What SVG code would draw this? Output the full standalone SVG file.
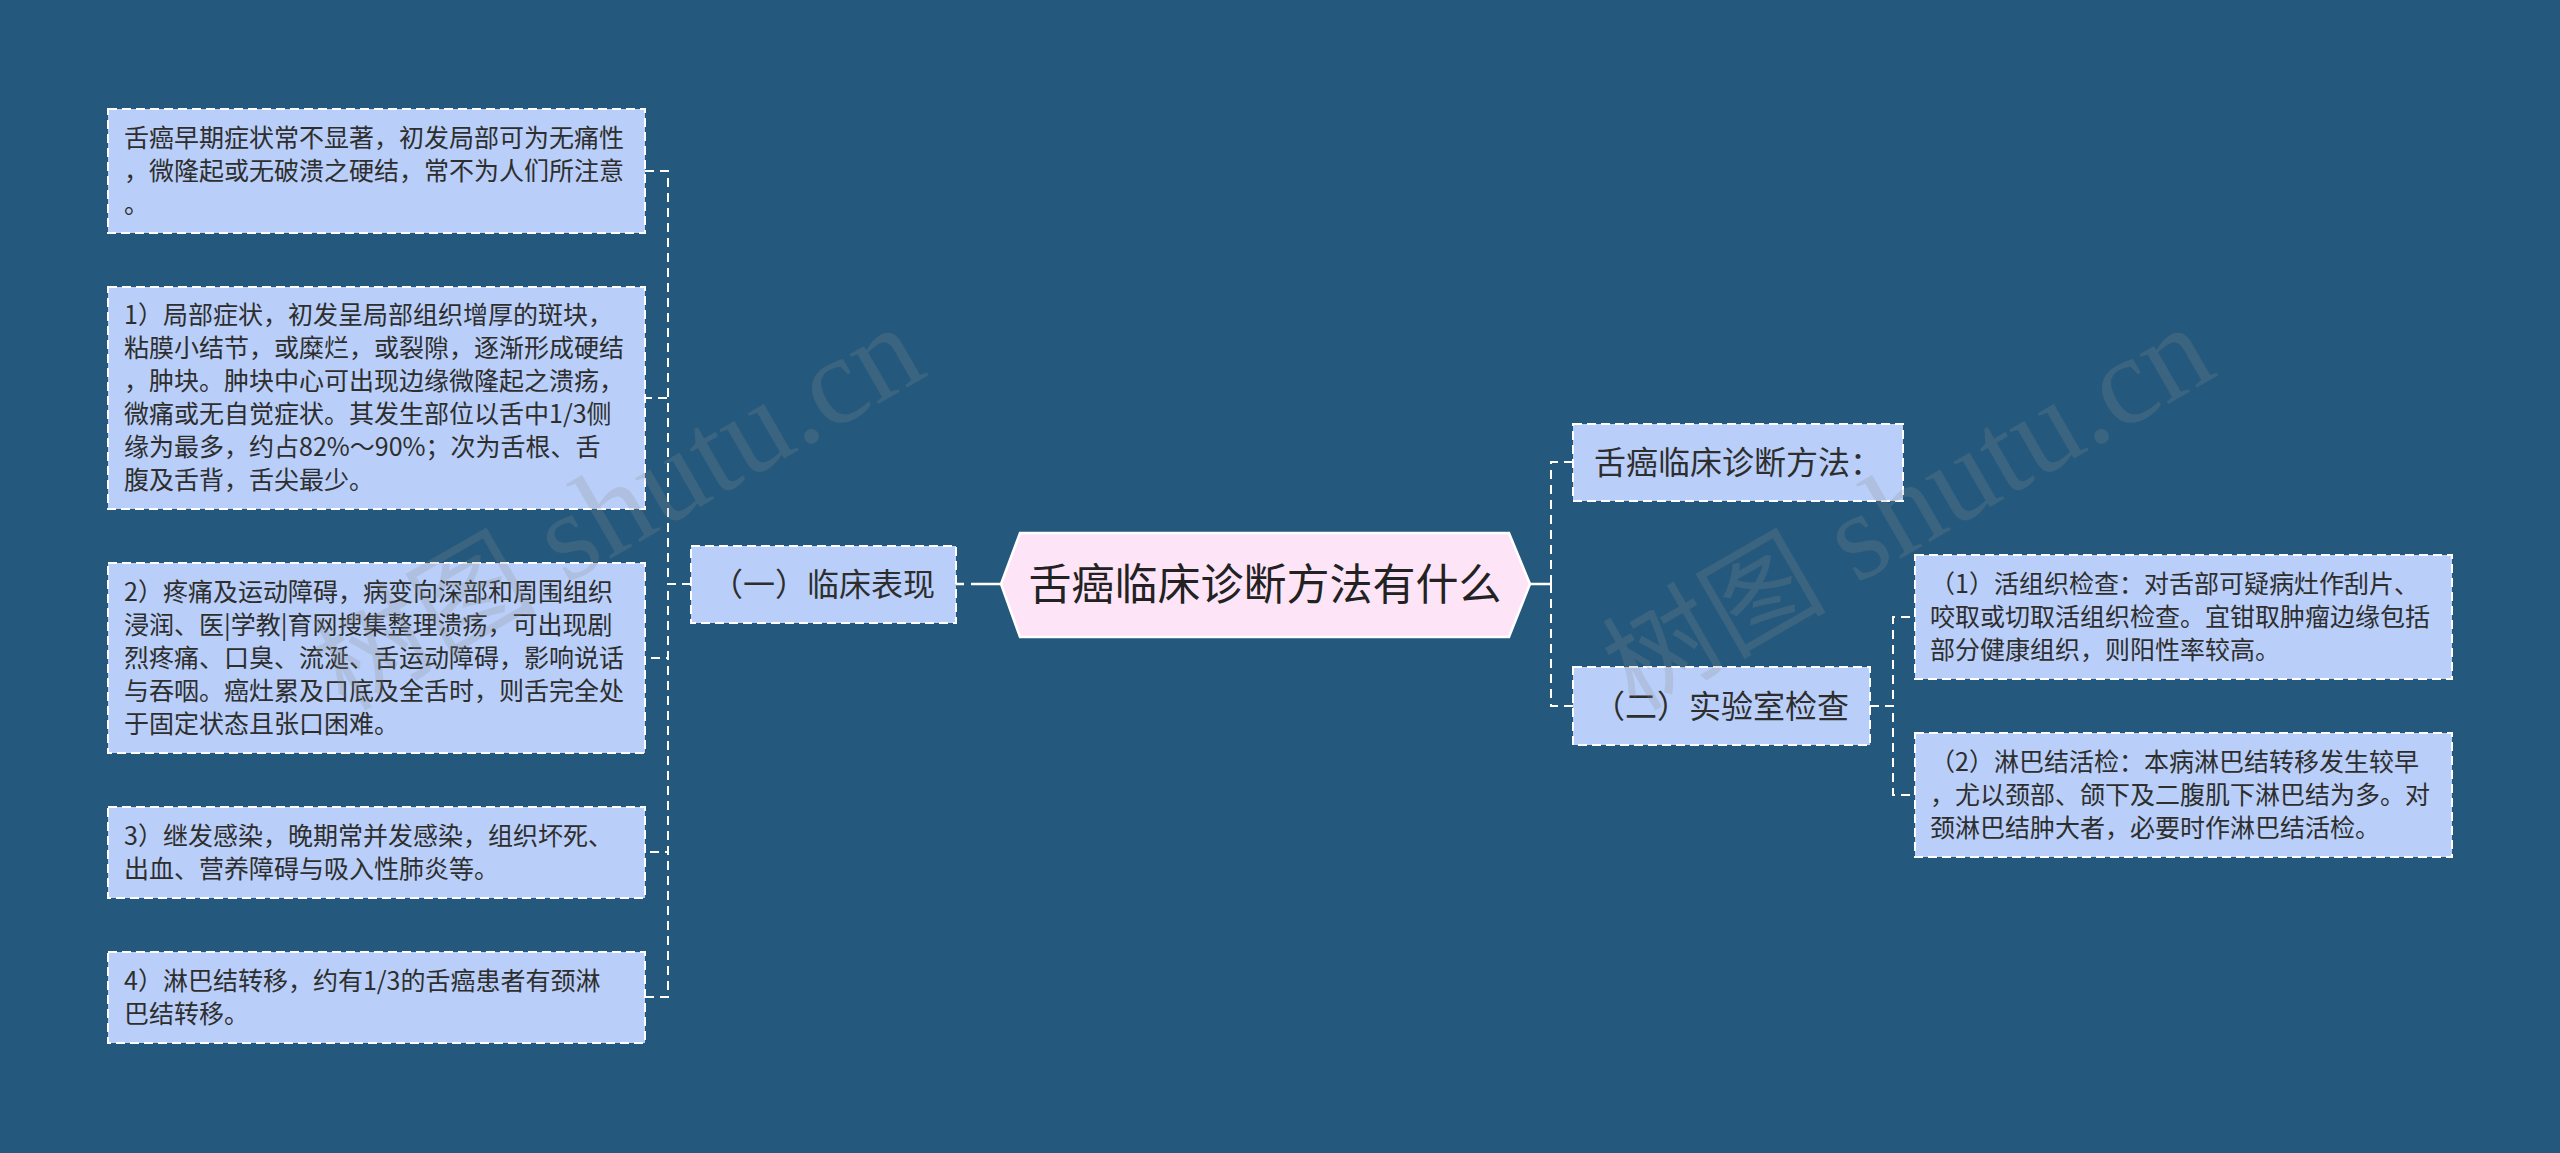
<svg xmlns="http://www.w3.org/2000/svg" width="2560" height="1153" viewBox="0 0 2560 1153">
<style>
.bg{fill:#24597D}
.box{fill:#B9CEF8;stroke:#FFFFFF;stroke-width:2;stroke-dasharray:9 5}
.root{fill:#FDE5F7;stroke:#FFFFFF;stroke-width:2.5}
.t{font-family:"Noto Sans CJK SC","Noto Sans",sans-serif;fill:#2E2E2E}
.s{font-size:25px}
.m{font-size:32px;text-anchor:middle}
.r{font-size:43px;text-anchor:middle;fill:#222222}
.c{fill:none;stroke:#FFFFFF;stroke-width:2;stroke-dasharray:9 6}
.cs{fill:none;stroke:#FFFFFF;stroke-width:2.5}
.wm{font-family:"Liberation Serif",serif;font-size:125px;fill:#8C8C8C;fill-opacity:0.22}
.wmc{font-family:"Noto Sans CJK SC",sans-serif;font-size:112px}
</style>
<rect class="bg" x="0" y="0" width="2560" height="1153"/>

<g id="connectors">
  <path class="cs" d="M1001 584 H971"/>
  <path class="cs" d="M964 584 H956"/>
  <path class="cs" d="M1530 584 H1551"/>
  <path class="c" d="M691 584 H668 V171 H645"/>
  <path class="c" d="M691 584 H668 V398 H645"/>
  <path class="c" d="M691 584 H668 V658 H645"/>
  <path class="c" d="M691 584 H668 V852 H645"/>
  <path class="c" d="M691 584 H668 V997 H645"/>
  <path class="c" d="M1551 584 V462 H1573"/>
  <path class="c" d="M1551 584 V706 H1573"/>
  <path class="c" d="M1870 706 H1893 V617 H1915"/>
  <path class="c" d="M1870 706 H1893 V795 H1915"/>
</g>

<g id="root">
  <polygon class="root" points="1001,584 1020,533 1509,533 1530,584 1509,637 1020,637"/>
  <text class="t r" x="1265" y="600">舌癌临床诊断方法有什么</text>
</g>

<g id="n-clinical">
  <rect class="box" x="691" y="546" width="265" height="77"/>
  <text class="t m" x="823" y="596">（一）临床表现</text>
</g>

<g id="n-early">
  <rect class="box" x="108" y="109" width="537" height="124"/>
  <text class="t s" x="124" y="147">舌癌早期症状常不显著，初发局部可为无痛性</text>
  <text class="t s" x="124" y="180">，微隆起或无破溃之硬结，常不为人们所注意</text>
  <text class="t s" x="124" y="213">。</text>
</g>

<g id="n-local">
  <rect class="box" x="108" y="287" width="537" height="222"/>
  <text class="t s" x="124" y="324">1）局部症状，初发呈局部组织增厚的斑块，</text>
  <text class="t s" x="124" y="357">粘膜小结节，或糜烂，或裂隙，逐渐形成硬结</text>
  <text class="t s" x="124" y="390">，肿块。肿块中心可出现边缘微隆起之溃疡，</text>
  <text class="t s" x="124" y="423">微痛或无自觉症状。其发生部位以舌中1/3侧</text>
  <text class="t s" x="124" y="456">缘为最多，约占82%～90%；次为舌根、舌</text>
  <text class="t s" x="124" y="489">腹及舌背，舌尖最少。</text>
</g>

<g id="n-pain">
  <rect class="box" x="108" y="563" width="537" height="190"/>
  <text class="t s" x="124" y="601">2）疼痛及运动障碍，病变向深部和周围组织</text>
  <text class="t s" x="124" y="634">浸润、医|学教|育网搜集整理溃疡，可出现剧</text>
  <text class="t s" x="124" y="667">烈疼痛、口臭、流涎、舌运动障碍，影响说话</text>
  <text class="t s" x="124" y="700">与吞咽。癌灶累及口底及全舌时，则舌完全处</text>
  <text class="t s" x="124" y="733">于固定状态且张口困难。</text>
</g>

<g id="n-infection">
  <rect class="box" x="108" y="807" width="537" height="91"/>
  <text class="t s" x="124" y="845">3）继发感染，晚期常并发感染，组织坏死、</text>
  <text class="t s" x="124" y="878">出血、营养障碍与吸入性肺炎等。</text>
</g>

<g id="n-lymph">
  <rect class="box" x="108" y="952" width="537" height="91"/>
  <text class="t s" x="124" y="990">4）淋巴结转移，约有1/3的舌癌患者有颈淋</text>
  <text class="t s" x="124" y="1023">巴结转移。</text>
</g>

<g id="n-methods">
  <rect class="box" x="1573" y="424" width="330" height="77"/>
  <text class="t m" x="1738" y="474">舌癌临床诊断方法：</text>
</g>

<g id="n-lab">
  <rect class="box" x="1573" y="667" width="297" height="78"/>
  <text class="t m" x="1721" y="718">（二）实验室检查</text>
</g>

<g id="n-biopsy">
  <rect class="box" x="1915" y="555" width="537" height="124"/>
  <text class="t s" x="1930" y="593">（1）活组织检查：对舌部可疑病灶作刮片、</text>
  <text class="t s" x="1930" y="626">咬取或切取活组织检查。宜钳取肿瘤边缘包括</text>
  <text class="t s" x="1930" y="659">部分健康组织，则阳性率较高。</text>
</g>

<g id="n-nodebiopsy">
  <rect class="box" x="1915" y="733" width="537" height="124"/>
  <text class="t s" x="1930" y="771">（2）淋巴结活检：本病淋巴结转移发生较早</text>
  <text class="t s" x="1930" y="804">，尤以颈部、颌下及二腹肌下淋巴结为多。对</text>
  <text class="t s" x="1930" y="837">颈淋巴结肿大者，必要时作淋巴结活检。</text>
</g>

<g id="watermarks">
  <text class="wm" transform="translate(345 712) rotate(-30)"><tspan class="wmc">树图</tspan> shutu.cn</text>
  <text class="wm" transform="translate(1635 712) rotate(-30)"><tspan class="wmc">树图</tspan> shutu.cn</text>
</g>
</svg>
